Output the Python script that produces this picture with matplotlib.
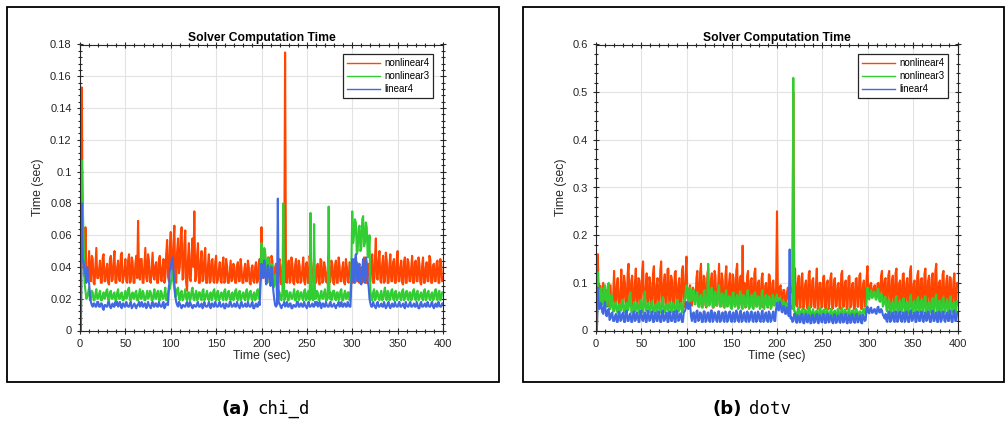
import numpy as np
import matplotlib
matplotlib.use("Agg")
import matplotlib.pyplot as plt
from matplotlib.patches import Rectangle
from matplotlib.ticker import MultipleLocator, FuncFormatter

plt.rcParams['font.family'] = ['Liberation Sans', 'DejaVu Sans']

# Solver time per step (ms), one sample per second from t = 0 s
# chi_d case
chi_nonlinear4 = [
    0, 0, 153, 60, 40, 34, 65, 38, 36, 31, 50, 35, 31, 47, 45, 30, 29, 41, 52, 33,
    33, 38, 44, 30, 30, 46, 48, 31, 31, 39, 42, 30, 29, 45, 47, 31, 32, 43, 50, 30,
    30, 40, 44, 32, 31, 47, 49, 30, 33, 38, 45, 31, 30, 44, 48, 30, 31, 46, 43, 30,
    30, 42, 47, 33, 69, 35, 32, 45, 45, 30, 30, 41, 52, 33, 31, 48, 44, 31, 30, 39,
    49, 34, 32, 41, 43, 30, 30, 45, 47, 32, 31, 40, 45, 30, 33, 48, 57, 34, 31, 52,
    62, 38, 35, 55, 66, 31, 30, 50, 58, 36, 40, 60, 65, 32, 33, 54, 63, 30, 25, 45,
    55, 33, 31, 48, 58, 40, 75, 31, 34, 47, 55, 30, 30, 44, 50, 31, 32, 46, 52, 30,
    30, 41, 48, 30, 31, 44, 45, 31, 30, 43, 47, 30, 32, 38, 43, 31, 30, 42, 46, 30,
    31, 45, 41, 30, 30, 37, 44, 31, 32, 42, 40, 30, 30, 41, 43, 31, 31, 45, 39, 30,
    30, 38, 42, 31, 31, 44, 40, 30, 29, 39, 41, 31, 30, 40, 43, 30, 31, 42, 45, 32,
    65, 35, 33, 45, 48, 31, 30, 42, 46, 30, 31, 47, 44, 30, 30, 40, 42, 31, 31, 43,
    45, 30, 29, 41, 43, 30, 175, 31, 30, 40, 44, 30, 31, 46, 42, 30, 29, 41, 45, 31,
    30, 44, 41, 30, 31, 39, 46, 31, 29, 42, 43, 30, 30, 47, 41, 31, 31, 40, 45, 30,
    30, 40, 42, 31, 29, 45, 44, 30, 31, 43, 40, 31, 30, 38, 47, 30, 31, 44, 42, 30,
    29, 41, 44, 30, 30, 46, 41, 31, 31, 39, 43, 30, 29, 45, 40, 31, 30, 43, 42, 30,
    30, 41, 45, 30, 31, 43, 42, 31, 30, 39, 40, 30, 31, 46, 44, 30, 30, 41, 42, 31,
    31, 42, 48, 30, 30, 45, 58, 33, 32, 44, 50, 31, 30, 42, 47, 30, 31, 49, 44, 30,
    30, 42, 48, 31, 31, 43, 45, 30, 30, 44, 50, 31, 31, 40, 44, 30, 29, 43, 46, 30,
    30, 45, 43, 31, 31, 40, 47, 30, 30, 43, 44, 31, 31, 46, 42, 30, 29, 41, 46, 30,
    30, 40, 43, 31, 31, 47, 45, 30, 30, 41, 42, 31, 31, 43, 44, 30, 30, 45, 42, 31,
    33,
]
chi_nonlinear3 = [
    0, 0, 107, 80, 57, 30, 25, 20, 21, 24, 27, 19, 20, 25, 24, 19, 19, 23, 26, 20,
    20, 23, 25, 19, 19, 22, 24, 20, 21, 25, 26, 19, 19, 24, 25, 20, 20, 23, 24, 19,
    19, 24, 26, 20, 20, 23, 24, 19, 19, 22, 25, 20, 21, 26, 27, 19, 19, 23, 24, 20,
    20, 24, 25, 19, 19, 23, 26, 20, 20, 25, 24, 19, 19, 22, 25, 20, 21, 25, 24, 19,
    19, 23, 26, 20, 20, 24, 25, 19, 19, 25, 24, 20, 20, 23, 27, 19, 19, 24, 28, 26,
    30, 33, 38, 30, 26, 21, 22, 26, 27, 20, 19, 24, 25, 19, 20, 23, 26, 20, 19, 24,
    24, 19, 20, 25, 27, 20, 19, 23, 25, 19, 20, 24, 24, 20, 19, 25, 26, 19, 20, 23,
    25, 20, 19, 23, 24, 19, 20, 25, 26, 20, 19, 24, 25, 19, 20, 23, 24, 20, 19, 25,
    26, 19, 20, 24, 25, 20, 19, 23, 24, 19, 20, 25, 26, 20, 19, 24, 25, 19, 20, 23,
    24, 20, 19, 25, 26, 19, 20, 24, 25, 20, 19, 23, 24, 19, 20, 25, 26, 20, 22, 35,
    55, 45, 42, 52, 50, 36, 38, 46, 45, 30, 33, 42, 40, 27, 28, 35, 34, 22, 20, 25,
    24, 20, 19, 24, 80, 19, 20, 25, 25, 19, 19, 24, 24, 20, 20, 23, 26, 19, 19, 24,
    25, 19, 20, 24, 24, 20, 19, 25, 26, 19, 20, 24, 25, 19, 74, 20, 24, 19, 67, 20,
    20, 25, 24, 19, 19, 23, 25, 20, 20, 24, 26, 19, 19, 25, 78, 20, 24, 19, 20, 25,
    25, 20, 19, 24, 24, 19, 20, 25, 26, 19, 19, 23, 25, 20, 20, 24, 24, 19, 21, 40,
    75, 55, 60, 70, 68, 48, 50, 64, 66, 50, 52, 70, 72, 53, 55, 68, 65, 46, 48, 60,
    25, 20, 19, 24, 26, 19, 20, 25, 24, 20, 19, 23, 25, 19, 20, 24, 27, 20, 19, 25,
    24, 19, 20, 25, 26, 20, 19, 24, 25, 19, 20, 23, 24, 20, 19, 25, 26, 19, 20, 24,
    25, 20, 19, 24, 24, 19, 20, 25, 26, 20, 19, 24, 25, 19, 20, 23, 24, 20, 19, 25,
    26, 19, 20, 24, 25, 20, 19, 23, 24, 19, 20, 25, 26, 20, 19, 24, 25, 19, 20, 24,
    24,
]
chi_linear4 = [
    0, 0, 80, 45, 43, 38, 35, 30, 40, 33, 30, 22, 18, 16, 15, 17, 17, 15, 15, 18,
    18, 15, 15, 17, 17, 14, 13, 16, 16, 15, 15, 18, 18, 15, 14, 16, 17, 15, 15, 18,
    16, 18, 15, 16, 18, 15, 14, 17, 17, 15, 15, 18, 16, 15, 15, 17, 18, 14, 15, 16,
    17, 15, 14, 16, 16, 18, 15, 16, 18, 15, 15, 17, 17, 14, 15, 18, 16, 15, 14, 17,
    18, 15, 15, 17, 17, 15, 15, 18, 16, 15, 15, 17, 18, 14, 15, 17, 17, 16, 26, 38,
    40, 44, 46, 38, 30, 22, 18, 16, 15, 18, 17, 15, 14, 16, 16, 15, 15, 17, 18, 15,
    15, 18, 17, 15, 14, 16, 16, 15, 15, 17, 18, 15, 15, 16, 17, 14, 15, 18, 16, 15,
    15, 16, 18, 15, 14, 17, 17, 15, 15, 18, 16, 15, 15, 17, 18, 15, 15, 16, 17, 14,
    14, 17, 16, 15, 15, 18, 18, 15, 15, 16, 17, 15, 15, 18, 16, 15, 14, 17, 18, 15,
    15, 16, 17, 15, 15, 18, 16, 15, 15, 17, 18, 14, 14, 16, 17, 15, 15, 18, 16, 30,
    42, 36, 33, 44, 40, 29, 30, 41, 38, 32, 28, 40, 35, 25, 20, 16, 15, 16, 83, 17,
    17, 15, 14, 16, 16, 18, 15, 16, 18, 15, 15, 17, 17, 14, 14, 16, 16, 15, 15, 18,
    18, 15, 15, 17, 17, 15, 15, 18, 16, 15, 14, 17, 18, 15, 15, 16, 17, 15, 15, 18,
    16, 18, 15, 16, 18, 15, 14, 17, 17, 15, 15, 18, 16, 15, 15, 17, 18, 15, 15, 16,
    17, 15, 14, 16, 16, 18, 15, 16, 18, 15, 15, 17, 17, 15, 15, 18, 16, 15, 15, 30,
    45, 33, 30, 44, 48, 35, 31, 40, 42, 30, 29, 38, 45, 32, 30, 46, 43, 31, 28, 20,
    17, 15, 15, 18, 16, 15, 14, 17, 18, 15, 15, 16, 17, 15, 15, 18, 16, 14, 15, 17,
    18, 15, 14, 16, 17, 15, 15, 18, 16, 15, 15, 17, 18, 15, 15, 16, 17, 15, 14, 18,
    16, 15, 15, 17, 18, 15, 15, 16, 17, 15, 15, 18, 16, 14, 14, 17, 18, 15, 15, 16,
    17, 15, 15, 18, 16, 15, 15, 17, 18, 15, 14, 16, 17, 15, 15, 18, 16, 15, 15, 17,
    17,
]

# dotv case
dotv_nonlinear4 = [
    0, 0, 160, 75, 95, 60, 70, 90, 100, 65, 55, 80, 85, 50, 60, 92, 95, 55, 50, 75,
    125, 60, 55, 95, 110, 50, 48, 85, 128, 55, 60, 115, 100, 48, 50, 120, 140, 52, 55, 105,
    115, 50, 48, 100, 130, 55, 52, 110, 105, 48, 60, 125, 145, 55, 50, 90, 120, 48, 55, 112,
    100, 52, 48, 120, 135, 50, 55, 95, 110, 48, 50, 125, 145, 55, 52, 100, 118, 50, 48, 128,
    130, 50, 55, 115, 105, 48, 50, 120, 125, 55, 48, 95, 110, 50, 55, 125, 135, 48, 50, 115,
    155, 70, 60, 85, 95, 55, 52, 90, 85, 60, 65, 110, 125, 52, 50, 120, 140, 50, 55, 115,
    110, 52, 48, 118, 130, 55, 58, 105, 120, 48, 50, 125, 115, 52, 55, 100, 140, 55, 52, 120,
    105, 50, 48, 115, 135, 52, 55, 100, 120, 48, 50, 118, 110, 55, 52, 125, 140, 50, 48, 110,
    115, 55, 178, 60, 100, 48, 50, 115, 125, 52, 55, 105, 110, 50, 48, 120, 130, 55, 52, 100,
    105, 52, 50, 110, 120, 48, 55, 95, 100, 50, 48, 118, 115, 55, 52, 100, 105, 60, 60, 90,
    250, 75, 70, 90, 95, 60, 60, 85, 85, 58, 55, 80, 90, 62, 65, 88, 80, 95, 500, 120,
    130, 55, 50, 100, 115, 50, 48, 110, 120, 45, 55, 95, 105, 50, 45, 118, 125, 48, 50, 105,
    110, 50, 48, 95, 130, 45, 52, 100, 100, 48, 50, 112, 115, 50, 45, 98, 105, 45, 55, 110,
    120, 45, 48, 105, 110, 50, 52, 95, 100, 48, 45, 118, 125, 50, 50, 100, 105, 45, 48, 112,
    115, 48, 52, 98, 100, 45, 45, 108, 110, 50, 50, 115, 120, 45, 48, 95, 105, 50, 55, 110,
    135, 75, 70, 95, 100, 72, 75, 90, 95, 70, 70, 98, 100, 72, 72, 115, 125, 60, 60, 105,
    110, 52, 55, 115, 125, 48, 50, 105, 115, 52, 48, 120, 130, 50, 55, 100, 105, 48, 50, 118,
    120, 48, 52, 100, 110, 50, 55, 125, 135, 48, 50, 98, 105, 52, 48, 115, 125, 50, 55, 108,
    110, 55, 50, 120, 130, 48, 52, 105, 115, 50, 48, 110, 120, 52, 55, 125, 140, 48, 50, 100,
    105, 48, 55, 118, 125, 50, 48, 100, 115, 55, 52, 112, 110, 48, 50, 105, 120, 52, 55, 100,
    95,
]
dotv_nonlinear3 = [
    0, 0, 122, 60, 50, 85, 90, 55, 60, 88, 95, 50, 55, 92, 100, 45, 45, 75, 70, 40,
    40, 55, 60, 40, 38, 52, 55, 42, 42, 60, 65, 38, 40, 55, 58, 42, 45, 70, 80, 40,
    38, 52, 60, 40, 42, 58, 55, 38, 40, 62, 65, 40, 38, 70, 82, 42, 45, 55, 58, 38,
    40, 55, 62, 42, 38, 50, 55, 40, 42, 58, 60, 38, 40, 62, 70, 40, 38, 52, 56, 42,
    42, 55, 60, 38, 40, 58, 55, 42, 38, 60, 65, 40, 42, 55, 58, 38, 40, 65, 62, 80,
    95, 70, 60, 88, 90, 62, 65, 82, 85, 55, 55, 78, 80, 50, 50, 72, 75, 48, 48, 80,
    85, 55, 50, 75, 140, 52, 55, 85, 90, 50, 48, 82, 80, 55, 52, 88, 95, 50, 50, 78,
    75, 50, 48, 80, 85, 50, 52, 72, 70, 48, 45, 78, 80, 50, 50, 70, 75, 45, 48, 82,
    80, 48, 45, 75, 70, 50, 50, 82, 85, 45, 48, 70, 75, 48, 45, 78, 80, 50, 50, 72,
    70, 45, 48, 80, 85, 48, 45, 70, 75, 50, 50, 72, 68, 45, 48, 75, 72, 52, 55, 70,
    75, 58, 60, 68, 65, 52, 55, 62, 60, 45, 45, 58, 55, 40, 40, 52, 50, 45, 530, 40,
    40, 32, 30, 45, 48, 30, 32, 42, 45, 28, 28, 44, 42, 30, 30, 48, 50, 30, 28, 40,
    45, 28, 30, 40, 42, 30, 28, 46, 48, 32, 30, 42, 44, 28, 32, 45, 40, 30, 28, 42,
    46, 30, 30, 40, 42, 28, 28, 45, 44, 30, 32, 42, 48, 28, 30, 44, 40, 32, 28, 45,
    45, 28, 30, 42, 42, 30, 28, 46, 44, 30, 32, 40, 40, 28, 30, 44, 46, 35, 38, 60,
    90, 70, 65, 80, 85, 68, 70, 82, 80, 65, 65, 85, 88, 62, 60, 78, 75, 50, 55, 70,
    70, 42, 40, 62, 65, 38, 35, 58, 60, 40, 38, 68, 72, 36, 35, 60, 62, 38, 40, 65,
    68, 40, 35, 58, 60, 36, 38, 70, 75, 38, 40, 60, 62, 35, 35, 65, 70, 40, 38, 62,
    65, 38, 40, 68, 72, 35, 35, 58, 60, 40, 38, 65, 68, 36, 40, 70, 75, 38, 35, 62,
    62, 35, 38, 66, 70, 38, 40, 60, 65, 36, 35, 68, 72, 40, 38, 58, 60, 36, 40, 62,
    55,
]
dotv_linear4 = [
    0, 0, 90, 50, 45, 58, 55, 38, 35, 52, 60, 32, 30, 42, 45, 22, 25, 36, 38, 20,
    20, 30, 35, 18, 18, 38, 40, 20, 22, 35, 38, 18, 18, 40, 42, 20, 20, 32, 36, 18,
    18, 35, 40, 20, 22, 38, 35, 18, 18, 40, 42, 22, 20, 33, 38, 18, 18, 42, 36, 20,
    22, 36, 40, 18, 18, 35, 38, 20, 20, 40, 35, 18, 18, 38, 42, 20, 22, 33, 38, 18,
    18, 40, 36, 20, 20, 35, 40, 18, 18, 42, 38, 20, 22, 36, 35, 18, 18, 38, 40, 45,
    60, 50, 45, 58, 55, 30, 20, 35, 38, 18, 18, 40, 42, 20, 22, 38, 36, 18, 18, 40,
    40, 18, 20, 36, 38, 20, 18, 42, 42, 18, 22, 38, 35, 20, 18, 40, 40, 18, 20, 35,
    38, 20, 18, 40, 36, 18, 22, 38, 40, 20, 18, 35, 38, 18, 20, 42, 35, 20, 18, 38,
    42, 18, 20, 35, 38, 20, 18, 40, 36, 18, 22, 38, 40, 20, 18, 36, 38, 18, 20, 40,
    35, 20, 18, 38, 42, 18, 20, 36, 38, 20, 18, 40, 36, 18, 22, 35, 40, 20, 20, 45,
    58, 45, 42, 60, 55, 40, 38, 52, 50, 35, 35, 48, 45, 30, 170, 25, 28, 18, 20, 35,
    35, 18, 16, 32, 30, 17, 18, 35, 33, 16, 15, 30, 35, 18, 17, 33, 30, 15, 16, 34,
    32, 16, 18, 30, 35, 17, 15, 33, 30, 18, 17, 35, 33, 16, 16, 30, 35, 17, 18, 32,
    30, 18, 15, 33, 34, 16, 17, 30, 32, 18, 16, 35, 30, 17, 18, 33, 35, 16, 15, 30,
    33, 16, 17, 35, 30, 18, 16, 32, 35, 17, 18, 30, 32, 16, 15, 33, 30, 20, 22, 45,
    50, 38, 36, 46, 48, 37, 38, 44, 45, 36, 35, 48, 50, 38, 38, 45, 42, 32, 30, 25,
    35, 20, 18, 38, 40, 18, 20, 36, 38, 20, 18, 40, 36, 18, 22, 38, 40, 20, 18, 36,
    38, 18, 20, 40, 35, 18, 18, 38, 42, 20, 22, 36, 38, 18, 18, 40, 36, 20, 20, 38,
    40, 20, 18, 36, 38, 20, 22, 40, 35, 18, 18, 38, 42, 20, 20, 36, 38, 18, 18, 40,
    36, 18, 22, 38, 40, 20, 18, 35, 38, 20, 20, 42, 35, 18, 18, 40, 42, 20, 20, 36,
    38,
]

labels = ['nonlinear4', 'nonlinear3', 'linear4']
colors = ['#ff4500', '#32cd32', '#4169e1']
ink = '#262626'

fig = plt.figure(figsize=(10.06, 4.30), dpi=100)

# outer frames around each sub-figure
for x0, w in [(7, 492), (523, 481)]:
    fig.add_artist(Rectangle((x0 / 1006, 1 - 382 / 430), w / 1006, 375 / 430,
                             transform=fig.transFigure, fill=False,
                             edgecolor='black', linewidth=1.3))


def solver_panel(ax, series, ymax, ystep, yminor):
    for vals, lab, col in zip(series, labels, colors):
        secs = np.arange(len(vals))
        ax.plot(secs, np.array(vals) / 1000.0, color=col, linewidth=1.5, label=lab)
    ax.set_xlim(0, 400)
    ax.set_ylim(0, ymax)
    ax.xaxis.set_major_locator(MultipleLocator(50))
    ax.xaxis.set_minor_locator(MultipleLocator(10))
    ax.yaxis.set_major_locator(MultipleLocator(ystep))
    ax.yaxis.set_minor_locator(MultipleLocator(yminor))
    ax.yaxis.set_major_formatter(FuncFormatter(lambda v, p: '%g' % round(v, 4)))
    ax.grid(True, which='major', color='#e3e3e3', linewidth=0.8)
    ax.set_axisbelow(True)
    ax.tick_params(which='both', direction='inout', top=True, right=True,
                   colors=ink, labelsize=8, width=0.8)
    ax.tick_params(which='major', length=5)
    ax.tick_params(which='minor', length=3)
    for s in ax.spines.values():
        s.set_color(ink)
        s.set_linewidth(0.8)
    ax.set_title('Solver Computation Time', fontsize=8.7, fontweight='bold', pad=2)
    ax.set_xlabel('Time (sec)', fontsize=8.8, color=ink, labelpad=1)
    ax.set_ylabel('Time (sec)', fontsize=8.8, color=ink, labelpad=4)
    leg = ax.legend(loc='upper right', fontsize=7, handlelength=3.4,
                    fancybox=False, framealpha=1, borderaxespad=1.0,
                    labelspacing=0.3, handletextpad=0.4, borderpad=0.4)
    leg.get_frame().set_edgecolor(ink)
    leg.get_frame().set_linewidth(0.9)
    for h in leg.get_lines():
        h.set_linewidth(1.0)


ax1 = fig.add_axes([80 / 1006, 1 - 330.5 / 430, 363 / 1006, 286 / 430])
solver_panel(ax1, [chi_nonlinear4, chi_nonlinear3, chi_linear4], 0.18, 0.02, 0.004)

ax2 = fig.add_axes([596 / 1006, 1 - 330.5 / 430, 362 / 1006, 286 / 430])
solver_panel(ax2, [dotv_nonlinear4, dotv_nonlinear3, dotv_linear4], 0.6, 0.1, 0.02)

# sub-figure captions
cy = 1 - 409 / 430
fig.text(250 / 1006, cy, '(a)', ha='right', va='center', fontsize=13,
         fontweight='bold', family='DejaVu Sans')
fig.text(257 / 1006, cy, 'chi_d', ha='left', va='center', fontsize=12.5,
         family='DejaVu Sans Mono')
fig.text(742 / 1006, cy, '(b)', ha='right', va='center', fontsize=13,
         fontweight='bold', family='DejaVu Sans')
fig.text(749 / 1006, cy, 'dotv', ha='left', va='center', fontsize=12.5,
         family='DejaVu Sans Mono')

fig.savefig('out.png', dpi=100)
